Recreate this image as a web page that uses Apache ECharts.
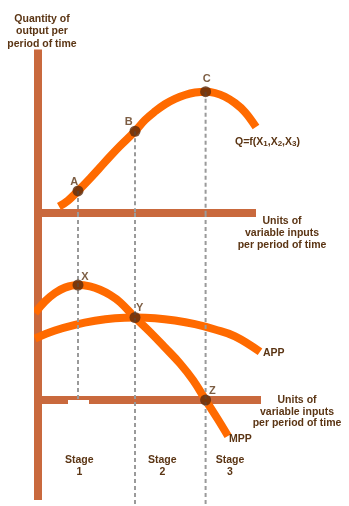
<!DOCTYPE html>
<html>
<head>
<meta charset="utf-8">
<script src="https://cdn.jsdelivr.net/npm/echarts@6/dist/echarts.min.js"></script>
<style>
  html, body { margin: 0; padding: 0; background: #ffffff; }
  #chart { width: 349px; height: 506px; }
</style>
</head>
<body>
<div id="chart"></div>
<script>
// Total product curve, top panel (units of input, quantity of output)
const tpInput  = [1.05, 1.5, 2.0, 2.6, 3.1, 3.6, 4.1, 4.85, 5.35, 5.85, 6.35, 6.85, 7.35, 7.85, 8.38, 8.85, 9.35, 9.85, 10.35, 10.9];
const tpOutput = [4.3, 8.3, 14.7, 23, 30.3, 37.7, 44.7, 54.5, 62, 67.7, 72.5, 76.1, 78.7, 80.3, 80.9, 80, 77.5, 73.3, 67.3, 57.3];

// Marginal physical product, bottom panel
const mppInput = [-0.15, 0.35, 0.85, 1.35, 2.0, 2.6, 3.1, 3.6, 4.1, 4.85, 5.6, 6.35, 7.1, 7.75, 8.38, 9.0, 9.5];
const mppValue = [43.5, 49.3, 53.5, 56.2, 57.5, 56.8, 55.15, 52.55, 48.95, 41.25, 34, 26.25, 18.25, 10, 0, -9.75, -18];

// Average physical product, bottom panel
const appInput = [-0.15, 0.85, 1.85, 2.85, 3.85, 4.85, 5.85, 6.85, 7.85, 8.85, 9.85, 11.1];
const appValue = [30.75, 34.75, 37.6, 39.6, 40.85, 41.25, 40.9, 39.75, 37.9, 35.25, 31.85, 24.15];

// Marked points on the total product curve
const tpPointNames  = ['A', 'B', 'C'];
const tpPointInput  = [2.0, 4.85, 8.38];
const tpPointOutput = [14.7, 54.5, 80.9];

// Marked points on the MPP / APP curves
const ppPointNames = ['X', 'Y', 'Z'];
const ppPointInput = [2.0, 4.85, 8.38];
const ppPointValue = [57.5, 41.25, 0];

// Where each guide line stops in the bottom panel
const guideBottom = [0, -53, -53];

const stageLabels = ['Stage\n1', 'Stage\n2', 'Stage\n3'];

const AXIS_COLOR = '#c9693d';
const CURVE_COLOR = '#ff6a00';
const DOT_COLOR = '#5a2a0c';
const TEXT_COLOR = '#5b3514';
const GUIDE_COLOR = '#9a9a9a';
const FONT = '"Liberation Sans", Arial, sans-serif';

const zip = (xs, ys) => xs.map((x, i) => [x, ys[i]]);

const topMax = 109;     // top panel vertical extent
const botMax = 93.5;    // bottom panel vertical extent
const botMin = -50;

const axisBar = { show: true, onZero: true, lineStyle: { color: AXIS_COLOR, width: 8, cap: 'butt' } };
const hidden = { show: false };

const tpLabelOffsets = [[-3.7, -9.3], [-6.3, -8.8], [1, -12.7]];
const ppLabelOffsets = [[7, -8.3], [4.7, -9.2], [6.7, -9.5]];

function pointSeries(names, xs, ys, offsets, idx) {
  return {
    type: 'scatter',
    xAxisIndex: idx, yAxisIndex: idx,
    symbol: 'circle', symbolSize: 11,
    itemStyle: { color: DOT_COLOR },
    z: 6, silent: true,
    data: names.map((n, i) => ({
      name: n, value: [xs[i], ys[i]],
      label: { offset: offsets[i] }
    })),
    label: {
      show: true, position: 'inside', formatter: '{b}',
      color: TEXT_COLOR, fontFamily: FONT, fontWeight: 'bold', fontSize: 11
    }
  };
}

const guideStyle = { color: GUIDE_COLOR, width: 2, type: [4, 3] };
const guides = [];
tpPointInput.forEach((x, i) => {
  guides.push({
    type: 'line', xAxisIndex: 0, yAxisIndex: 0, symbol: 'none', silent: true,
    clip: false, z: 5, lineStyle: guideStyle,
    data: [[x, tpPointOutput[i]], [x, 0]]
  });
  guides.push({
    type: 'line', xAxisIndex: 1, yAxisIndex: 1, symbol: 'none', silent: true,
    clip: false, z: 5, lineStyle: guideStyle,
    data: [[x, botMax], [x, guideBottom[i]]]
  });
});

function curve(xs, ys, idx) {
  return {
    type: 'line', xAxisIndex: idx, yAxisIndex: idx,
    smooth: 0.4, symbol: 'none', silent: true, clip: false, z: 3,
    lineStyle: { color: CURVE_COLOR, width: 8, cap: 'butt' },
    data: zip(xs, ys)
  };
}

const textBase = { fill: TEXT_COLOR, fontFamily: FONT, fontWeight: 'bold', fontSize: 10.5 };

const chart = echarts.init(document.getElementById('chart'), null, { renderer: 'canvas' });
chart.setOption({
  animation: false,
  backgroundColor: '#ffffff',
  grid: [
    { left: 38, top: 49.5, width: 218, height: 163.5 },
    { left: 38, top: 213, width: 223, height: 287 }
  ],
  xAxis: [
    { type: 'value', gridIndex: 0, min: 0, max: 10.9, axisLine: axisBar, axisTick: hidden, axisLabel: hidden, splitLine: hidden, z: 1 },
    { type: 'value', gridIndex: 1, min: 0, max: 11.15, axisLine: axisBar, axisTick: hidden, axisLabel: hidden, splitLine: hidden, z: 1 }
  ],
  yAxis: [
    { type: 'value', gridIndex: 0, min: 0, max: topMax, axisLine: axisBar, axisTick: hidden, axisLabel: hidden, splitLine: hidden, z: 1 },
    { type: 'value', gridIndex: 1, min: botMin, max: botMax, axisLine: axisBar, axisTick: hidden, axisLabel: hidden, splitLine: hidden, z: 1 }
  ],
  series: [
    curve(tpInput, tpOutput, 0),
    curve(appInput, appValue, 1),
    curve(mppInput, mppValue, 1),
    ...guides,
    pointSeries(tpPointNames, tpPointInput, tpPointOutput, tpLabelOffsets, 0),
    pointSeries(ppPointNames, ppPointInput, ppPointValue, ppLabelOffsets, 1)
  ],
  graphic: [
    { type: 'rect', shape: { x: 68, y: 400, width: 21, height: 5 }, style: { fill: '#ffffff' }, z: 100 },
    { type: 'text', x: 42, y: 13, z: 100,
      style: Object.assign({}, textBase, { text: 'Quantity of\noutput per\nperiod of time', align: 'center', verticalAlign: 'top', lineHeight: 12.3 }) },
    { type: 'text', x: 235, y: 141.7, z: 100,
      style: Object.assign({}, textBase, {
        text: 'Q=f(X{s|1},X{s|2},X{s|3})', align: 'left', verticalAlign: 'middle',
        rich: { s: { fill: TEXT_COLOR, fontFamily: FONT, fontWeight: 'bold', fontSize: 8, padding: [4, 0, 0, 0] } }
      }) },
    { type: 'text', x: 282, y: 214.5, z: 100,
      style: Object.assign({}, textBase, { text: 'Units of\nvariable inputs\nper period of time', align: 'center', verticalAlign: 'top', lineHeight: 12.3 }) },
    { type: 'text', x: 297, y: 394.5, z: 100,
      style: Object.assign({}, textBase, { text: 'Units of\nvariable inputs\nper period of time', align: 'center', verticalAlign: 'top', lineHeight: 11.5 }) },
    { type: 'text', x: 263, y: 352.7, z: 100,
      style: Object.assign({}, textBase, { text: 'APP', align: 'left', verticalAlign: 'middle' }) },
    { type: 'text', x: 229, y: 439.5, z: 100,
      style: Object.assign({}, textBase, { text: 'MPP', align: 'left', verticalAlign: 'middle' }) },
    ...stageLabels.map((t, i) => ({
      type: 'text', x: [79.3, 162.3, 230][i], y: 454.5, z: 100,
      style: Object.assign({}, textBase, { text: t, align: 'center', verticalAlign: 'top', lineHeight: 12 })
    }))
  ]
});
</script>
</body>
</html>
